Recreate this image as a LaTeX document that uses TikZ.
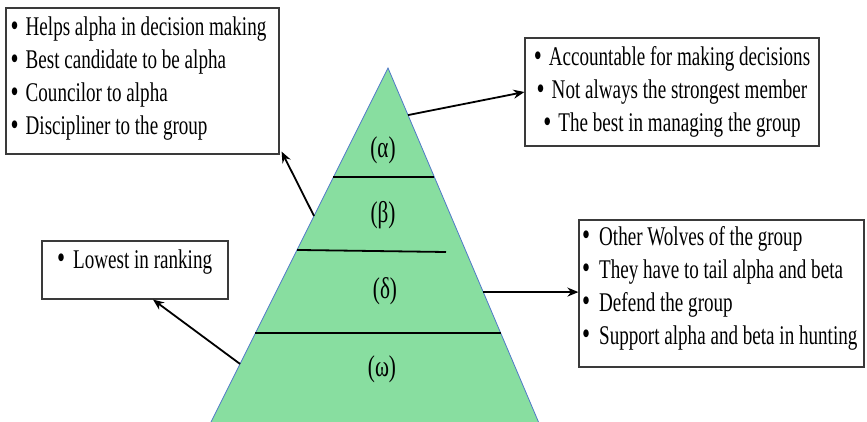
\documentclass[tikz,border=0pt]{standalone}
\usepackage{fontspec}
\usetikzlibrary{calc,arrows.meta}
\newfontfamily\boxfont[FakeStretch=0.707]{Liberation Serif}
\newcommand\wbul[1][15pt]{\makebox[#1][l]{\raisebox{-0.5pt}{\scalebox{1.2}{•}}}}
\definecolor{rankgreen}{RGB}{136,222,160}
\definecolor{rankedge}{RGB}{80,120,200}
\definecolor{boxline}{RGB}{58,58,58}
\tikzset{
  infobox/.style={draw=boxline, line width=1.2pt, fill=white, inner sep=0pt},
  txt/.style={font=\boxfont\fontsize{27}{33}\selectfont, inner sep=0pt},
  rankline/.style={line width=1.8pt, black},
  link/.style={line width=1.8pt, -{Stealth[length=11pt,width=9pt]}},
  ranklabel/.style={font=\boxfont\fontsize{30}{36}\selectfont, inner sep=0pt}
}
\begin{document}
\begin{tikzpicture}[x=1pt,y=-1pt]
\useasboundingbox (0,0) rectangle (867,422);

% pyramid
\coordinate (apex) at (388,68);
\coordinate (bl) at (211,422);
\coordinate (br) at (538.5,422);
\fill[rankgreen] (apex) -- (bl) -- (br) -- cycle;
\draw[rankedge, line width=0.8pt] (bl) -- (apex) -- (br);

% level separators
\draw[rankline] ($(apex)!0.308!(bl)$) -- ($(apex)!0.308!(br)$);
\draw[rankline] ($(apex)!0.514!(bl)$) -- (446,252);
\draw[rankline] ($(apex)!0.749!(bl)$) -- ($(apex)!0.749!(br)$);

% level labels
\node[ranklabel] (la) at (383,150) {(α)};
\node[ranklabel] (lb) at (383,215) {(β)};
\node[ranklabel] (ld) at (385,291) {(δ)};
\node[ranklabel] (lw) at (382,369) {(ω)};

% description boxes
\node[infobox, minimum width=273pt, minimum height=146pt] (b1) at (142.5,81) {};
\node[infobox, minimum width=294pt, minimum height=108pt] (b2) at (672,92) {};
\node[infobox, minimum width=186pt, minimum height=58pt] (b3) at (135,270) {};
\node[infobox, minimum width=285pt, minimum height=147pt] (b4) at (721.5,293.5) {};

% box texts (base anchor = baseline of the last line)
\node[txt, anchor=base west, align=left] (t1) at (10.5,135)
  {\wbul Helps alpha in decision making\\
   \wbul Best candidate to be alpha\\
   \wbul Councilor to alpha\\
   \wbul Discipliner to the group};
\node[txt, anchor=base, align=center] (t2) at (672,132)
  {\wbul Accountable for making decisions\\
   \wbul Not always the strongest member\\
   \wbul The best in managing the group};
\node[txt, anchor=base west] (t3) at (57,268)
  {\wbul[16pt]Lowest in ranking};
\node[txt, anchor=base west, align=left] (t4) at (582,344)
  {\wbul[17pt]Other Wolves of the group\\
   \wbul[17pt]They have to tail alpha and beta\\
   \wbul[17pt]Defend the group\\
   \wbul[17pt]Support alpha and beta in hunting};

% connectors from the pyramid to the boxes
\coordinate (sb) at ($(apex)!0.418!(bl)$);
\coordinate (sa) at ($(apex)!0.133!(br)$);
\coordinate (sd) at ($(apex)!0.633!(br)$);
\coordinate (sw) at ($(apex)!0.836!(bl)$);
\draw[link] (sb) -- ([xshift=2pt,yshift=3pt]b1.south east);
\draw[link] (sa) -- (b2.west);
\draw[link] (sd) -- (sd -| b4.west);
\draw[link] (sw) -- ([xshift=18pt]b3.south);
\end{tikzpicture}
\end{document}
